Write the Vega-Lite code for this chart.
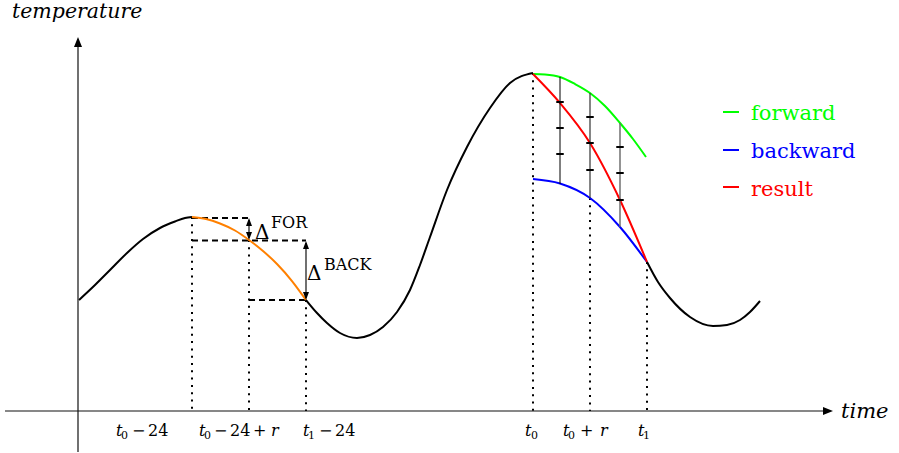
{
  "$schema": "https://vega.github.io/schema/vega-lite/v6.json",
  "width": 899,
  "height": 453,
  "padding": 0,
  "autosize": {"type": "fit", "contains": "padding"},
  "background": "white",
  "config": {"view": {"stroke": null}, "text": {"font": "DejaVu Serif"}},
  "datasets": {
    "curves": [
      {"seg": "b1", "curve": "black", "time": 79, "temp": 153},
      {"seg": "b1", "curve": "black", "time": 95, "temp": 168},
      {"seg": "b1", "curve": "black", "time": 110, "temp": 183},
      {"seg": "b1", "curve": "black", "time": 127, "temp": 200},
      {"seg": "b1", "curve": "black", "time": 143, "temp": 214},
      {"seg": "b1", "curve": "black", "time": 160, "temp": 225},
      {"seg": "b1", "curve": "black", "time": 175, "temp": 231.5},
      {"seg": "b1", "curve": "black", "time": 185, "temp": 235},
      {"seg": "b1", "curve": "black", "time": 192, "temp": 236},
      {"seg": "or", "curve": "orange", "time": 192, "temp": 236},
      {"seg": "or", "curve": "orange", "time": 206, "temp": 234},
      {"seg": "or", "curve": "orange", "time": 220, "temp": 229.5},
      {"seg": "or", "curve": "orange", "time": 235, "temp": 222.5},
      {"seg": "or", "curve": "orange", "time": 249, "temp": 213},
      {"seg": "or", "curve": "orange", "time": 263, "temp": 202},
      {"seg": "or", "curve": "orange", "time": 277, "temp": 189},
      {"seg": "or", "curve": "orange", "time": 292, "temp": 172},
      {"seg": "or", "curve": "orange", "time": 306, "temp": 153},
      {"seg": "b2", "curve": "black", "time": 306, "temp": 153},
      {"seg": "b2", "curve": "black", "time": 317, "temp": 140},
      {"seg": "b2", "curve": "black", "time": 327, "temp": 130},
      {"seg": "b2", "curve": "black", "time": 340, "temp": 120},
      {"seg": "b2", "curve": "black", "time": 357, "temp": 115},
      {"seg": "b2", "curve": "black", "time": 370, "temp": 118},
      {"seg": "b2", "curve": "black", "time": 383, "temp": 126},
      {"seg": "b2", "curve": "black", "time": 397, "temp": 141},
      {"seg": "b2", "curve": "black", "time": 410, "temp": 163},
      {"seg": "b2", "curve": "black", "time": 420, "temp": 188},
      {"seg": "b2", "curve": "black", "time": 430, "temp": 216},
      {"seg": "b2", "curve": "black", "time": 447, "temp": 263},
      {"seg": "b2", "curve": "black", "time": 467, "temp": 306},
      {"seg": "b2", "curve": "black", "time": 490, "temp": 345},
      {"seg": "b2", "curve": "black", "time": 510, "temp": 370},
      {"seg": "b2", "curve": "black", "time": 533, "temp": 380},
      {"seg": "gr", "curve": "forward", "time": 533, "temp": 379},
      {"seg": "gr", "curve": "forward", "time": 545, "temp": 378.5},
      {"seg": "gr", "curve": "forward", "time": 560, "temp": 376},
      {"seg": "gr", "curve": "forward", "time": 575, "temp": 369},
      {"seg": "gr", "curve": "forward", "time": 590, "temp": 360},
      {"seg": "gr", "curve": "forward", "time": 605, "temp": 347},
      {"seg": "gr", "curve": "forward", "time": 620, "temp": 330},
      {"seg": "gr", "curve": "forward", "time": 633, "temp": 314},
      {"seg": "gr", "curve": "forward", "time": 646, "temp": 296},
      {"seg": "bl", "curve": "backward", "time": 533, "temp": 274},
      {"seg": "bl", "curve": "backward", "time": 560, "temp": 269.5},
      {"seg": "bl", "curve": "backward", "time": 590, "temp": 255},
      {"seg": "bl", "curve": "backward", "time": 620, "temp": 226},
      {"seg": "bl", "curve": "backward", "time": 647, "temp": 191},
      {"seg": "rd", "curve": "result", "time": 533, "temp": 379},
      {"seg": "rd", "curve": "result", "time": 560, "temp": 350},
      {"seg": "rd", "curve": "result", "time": 590, "temp": 310},
      {"seg": "rd", "curve": "result", "time": 620, "temp": 253},
      {"seg": "rd", "curve": "result", "time": 647, "temp": 191},
      {"seg": "b3", "curve": "black", "time": 647, "temp": 191},
      {"seg": "b3", "curve": "black", "time": 658, "temp": 171},
      {"seg": "b3", "curve": "black", "time": 670, "temp": 155},
      {"seg": "b3", "curve": "black", "time": 690, "temp": 136},
      {"seg": "b3", "curve": "black", "time": 713, "temp": 127},
      {"seg": "b3", "curve": "black", "time": 727, "temp": 128},
      {"seg": "b3", "curve": "black", "time": 740, "temp": 133},
      {"seg": "b3", "curve": "black", "time": 750, "temp": 141},
      {"seg": "b3", "curve": "black", "time": 760, "temp": 152}
    ],
    "dotted": [
      {"time": 192, "temp": 236, "temp2": 42},
      {"time": 249, "temp": 213, "temp2": 42},
      {"time": 306, "temp": 153, "temp2": 42},
      {"time": 533, "temp": 380, "temp2": 42},
      {"time": 590, "temp": 255, "temp2": 42},
      {"time": 647, "temp": 191, "temp2": 42}
    ],
    "dashed": [
      {"time": 192, "time2": 249, "temp": 235},
      {"time": 192, "time2": 306, "temp": 212.5},
      {"time": 249, "time2": 306, "temp": 153}
    ],
    "solid": [
      {"time": 5, "time2": 826, "temp": 42, "temp2": 42},
      {"time": 78, "time2": 78, "temp": 1, "temp2": 408},
      {"time": 249, "time2": 249, "temp": 233, "temp2": 215},
      {"time": 306, "time2": 306, "temp": 210, "temp2": 155}
    ],
    "steps": [
      {"step": "1", "time": 560, "temp": 376, "temp2": 269},
      {"step": "2", "time": 590, "temp": 360, "temp2": 255},
      {"step": "3", "time": 620, "temp": 330, "temp2": 226}
    ],
    "ticks": [
      {"time": 560, "temp": 351}, {"time": 560, "temp": 325}, {"time": 560, "temp": 299},
      {"time": 590, "temp": 336}, {"time": 590, "temp": 310}, {"time": 590, "temp": 283},
      {"time": 620, "temp": 306}, {"time": 620, "temp": 280}, {"time": 620, "temp": 253}
    ],
    "arrowUpSmall": [{"time": 249, "temp": 231}, {"time": 306, "temp": 208}],
    "arrowDownSmall": [{"time": 249, "temp": 217}, {"time": 306, "temp": 157}],
    "arrowUpAxis": [{"time": 78, "temp": 411}],
    "arrowRightAxis": [{"time": 828, "temp": 42}],
    "legendLines": [
      {"curve": "forward", "time": 723, "time2": 739, "temp": 341},
      {"curve": "backward", "time": 723, "time2": 739, "temp": 303},
      {"curve": "result", "time": 723, "time2": 739, "temp": 266}
    ],
    "legendText": [
      {"curve": "forward", "time": 751, "temp": 333, "label": "forward"},
      {"curve": "backward", "time": 751, "temp": 295, "label": "backward"},
      {"curve": "result", "time": 751, "temp": 257, "label": "result"}
    ],
    "titleY": [{"time": 12, "temp": 435, "label": "temperature"}],
    "titleX": [{"time": 841, "temp": 35, "label": "time"}],
    "tickItalic": [
      {"time": 116, "temp": 17, "label": "t"},
      {"time": 199, "temp": 17, "label": "t"},
      {"time": 303, "temp": 17, "label": "t"},
      {"time": 525, "temp": 17, "label": "t"},
      {"time": 563, "temp": 17, "label": "t"},
      {"time": 638, "temp": 17, "label": "t"},
      {"time": 271, "temp": 17, "label": "r"},
      {"time": 600, "temp": 17, "label": "r"}
    ],
    "tickSub": [
      {"time": 121, "temp": 14, "label": "0"},
      {"time": 204, "temp": 14, "label": "0"},
      {"time": 308, "temp": 14, "label": "1"},
      {"time": 531, "temp": 14, "label": "0"},
      {"time": 568, "temp": 14, "label": "0"},
      {"time": 643, "temp": 14, "label": "1"}
    ],
    "tickRoman": [
      {"time": 132, "temp": 17, "label": "−"},
      {"time": 148, "temp": 17, "label": "24"},
      {"time": 214, "temp": 17, "label": "−"},
      {"time": 230, "temp": 17, "label": "24"},
      {"time": 253, "temp": 17, "label": "+"},
      {"time": 319, "temp": 17, "label": "−"},
      {"time": 335, "temp": 17, "label": "24"},
      {"time": 580, "temp": 17, "label": "+"}
    ],
    "deltas": [
      {"time": 255, "temp": 214, "label": "Δ"},
      {"time": 307, "temp": 173, "label": "Δ"}
    ],
    "supers": [
      {"time": 271, "temp": 225, "label": "FOR"},
      {"time": 324, "temp": 183, "label": "BACK"}
    ]
  },
  "encoding": {
    "x": {"field": "time", "type": "quantitative", "scale": {"domain": [0, 899], "nice": false, "zero": false}, "axis": null},
    "y": {"field": "temp", "type": "quantitative", "scale": {"domain": [0, 453], "nice": false, "zero": false}, "axis": null}
  },
  "layer": [
    {
      "data": {"name": "dotted"},
      "mark": {"type": "rule", "strokeDash": [2, 5.3], "strokeWidth": 2, "color": "black"},
      "encoding": {"y2": {"field": "temp2"}}
    },
    {
      "data": {"name": "dashed"},
      "mark": {"type": "rule", "strokeDash": [6, 4], "strokeWidth": 1.8, "color": "black"},
      "encoding": {"x2": {"field": "time2"}}
    },
    {
      "data": {"name": "solid"},
      "mark": {"type": "rule", "strokeWidth": 1.2, "color": "#111111"},
      "encoding": {"x2": {"field": "time2"}, "y2": {"field": "temp2"}}
    },
    {
      "data": {"name": "curves"},
      "mark": {"type": "line", "strokeWidth": 2, "interpolate": "monotone"},
      "encoding": {
        "detail": {"field": "seg"},
        "order": {"field": "time", "type": "quantitative"},
        "color": {"field": "curve", "type": "nominal", "legend": null,
          "scale": {"domain": ["black", "orange", "forward", "backward", "result"], "range": ["#000000", "#ff8000", "#00ff00", "#0000ff", "#ff0000"]}}
      }
    },
    {
      "data": {"name": "steps"},
      "mark": {"type": "rule"},
      "encoding": {
        "y2": {"field": "temp2"},
        "stroke": {"field": "step", "type": "nominal", "legend": null, "scale": {"domain": ["1", "2", "3"], "range": ["#000000", "#333333", "#666666"]}},
        "strokeWidth": {"field": "step", "type": "ordinal", "legend": null, "scale": {"domain": ["1", "2", "3"], "range": [1, 1.4, 1.9]}}
      }
    },
    {
      "data": {"name": "ticks"},
      "mark": {"type": "point", "shape": "stroke", "size": 56, "strokeWidth": 2, "color": "black", "filled": false, "opacity": 1}
    },
    {
      "data": {"name": "arrowUpSmall"},
      "mark": {"type": "point", "shape": "M0,-1L-0.75,1L0.75,1Z", "size": 64, "filled": true, "color": "black", "opacity": 1, "strokeWidth": 0}
    },
    {
      "data": {"name": "arrowDownSmall"},
      "mark": {"type": "point", "shape": "M0,1L-0.75,-1L0.75,-1Z", "size": 64, "filled": true, "color": "black", "opacity": 1, "strokeWidth": 0}
    },
    {
      "data": {"name": "arrowUpAxis"},
      "mark": {"type": "point", "shape": "M0,-1L-0.8,1L0.8,1Z", "size": 100, "filled": true, "color": "black", "opacity": 1, "strokeWidth": 0}
    },
    {
      "data": {"name": "arrowRightAxis"},
      "mark": {"type": "point", "shape": "M1,0L-1,-0.8L-1,0.8Z", "size": 100, "filled": true, "color": "black", "opacity": 1, "strokeWidth": 0}
    },
    {
      "data": {"name": "legendLines"},
      "mark": {"type": "rule", "strokeWidth": 2},
      "encoding": {
        "x2": {"field": "time2"},
        "color": {"field": "curve", "type": "nominal", "legend": null,
          "scale": {"domain": ["black", "orange", "forward", "backward", "result"], "range": ["#000000", "#ff8000", "#00ff00", "#0000ff", "#ff0000"]}}
      }
    },
    {
      "data": {"name": "legendText"},
      "mark": {"type": "text", "font": "DejaVu Serif", "fontSize": 21, "align": "left", "baseline": "alphabetic"},
      "encoding": {
        "text": {"field": "label"},
        "color": {"field": "curve", "type": "nominal", "legend": null,
          "scale": {"domain": ["black", "orange", "forward", "backward", "result"], "range": ["#000000", "#ff8000", "#00ff00", "#0000ff", "#ff0000"]}}
      }
    },
    {
      "data": {"name": "titleY"},
      "mark": {"type": "text", "font": "DejaVu Serif", "fontStyle": "italic", "fontSize": 20.5, "align": "left", "baseline": "alphabetic", "color": "black"},
      "encoding": {"text": {"field": "label"}}
    },
    {
      "data": {"name": "titleX"},
      "mark": {"type": "text", "font": "DejaVu Serif", "fontStyle": "italic", "fontSize": 21, "align": "left", "baseline": "alphabetic", "color": "black"},
      "encoding": {"text": {"field": "label"}}
    },
    {
      "data": {"name": "tickItalic"},
      "mark": {"type": "text", "font": "DejaVu Serif", "fontStyle": "italic", "fontSize": 16, "align": "left", "baseline": "alphabetic", "color": "black"},
      "encoding": {"text": {"field": "label"}}
    },
    {
      "data": {"name": "tickSub"},
      "mark": {"type": "text", "font": "DejaVu Serif", "fontSize": 11, "align": "left", "baseline": "alphabetic", "color": "black"},
      "encoding": {"text": {"field": "label"}}
    },
    {
      "data": {"name": "tickRoman"},
      "mark": {"type": "text", "font": "DejaVu Serif", "fontSize": 16, "align": "left", "baseline": "alphabetic", "color": "black"},
      "encoding": {"text": {"field": "label"}}
    },
    {
      "data": {"name": "deltas"},
      "mark": {"type": "text", "font": "DejaVu Serif", "fontSize": 20, "align": "left", "baseline": "alphabetic", "color": "black"},
      "encoding": {"text": {"field": "label"}}
    },
    {
      "data": {"name": "supers"},
      "mark": {"type": "text", "font": "DejaVu Serif", "fontSize": 16, "align": "left", "baseline": "alphabetic", "color": "black"},
      "encoding": {"text": {"field": "label"}}
    }
  ]
}
